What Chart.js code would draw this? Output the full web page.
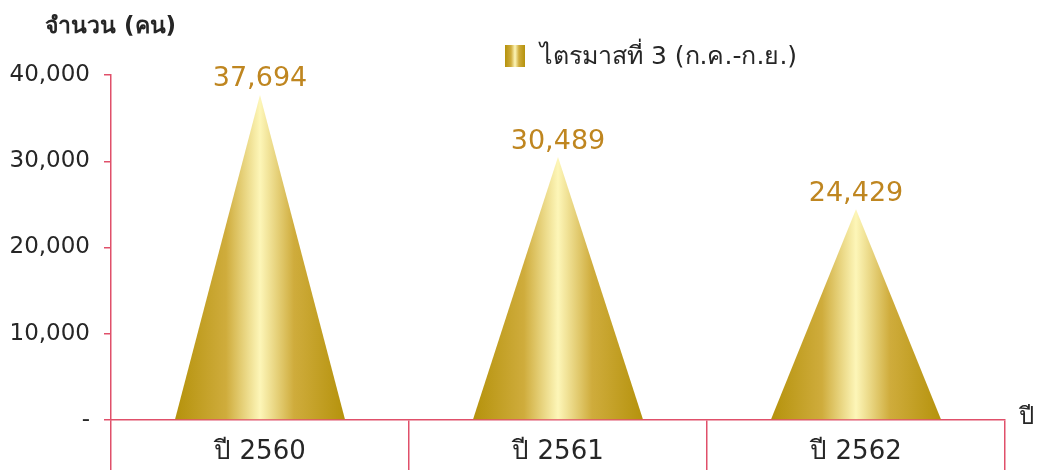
<!DOCTYPE html>
<html>
<head>
<meta charset="utf-8">
<script src="https://cdn.jsdelivr.net/npm/chart.js@4.4.1/dist/chart.umd.min.js"></script>
<style>
  html, body { margin: 0; padding: 0; background: #fff; }
  #wrap { width: 1037px; height: 470px; }
</style>
</head>
<body>
<div id="wrap"><canvas id="coneChart"></canvas></div>
<script>
// Visitors, Q3 (Jul-Sep)
const categories = ['ปี 2560', 'ปี 2561', 'ปี 2562'];
const visitors = [37694, 30489, 24429];
const yTicks = [0, 10000, 20000, 30000, 40000];
const seriesName = 'ไตรมาสที่ 3 (ก.ค.-ก.ย.)';
const yTitle = 'จำนวน (คน)';
const xTitle = 'ปี';

const FONT = '"DejaVu Sans", Tahoma, sans-serif';
const AXIS_PINK = '#e0506a';
const TEXT = '#262626';
const LABEL_GOLD = '#bf8620';

function goldGradient(ctx, x0, x1) {
  const g = ctx.createLinearGradient(x0, 0, x1, 0);
  g.addColorStop(0, '#b5920c');
  g.addColorStop(0.3, '#cfac3c');
  g.addColorStop(0.5, '#fdf6b8');
  g.addColorStop(0.7, '#cfac3c');
  g.addColorStop(1, '#b5920c');
  return g;
}

// draws each bar as a cone (triangle) plus its value label
const conePlugin = {
  id: 'cones',
  afterDatasetsDraw(chart) {
    const ctx = chart.ctx;
    const meta = chart.getDatasetMeta(0);
    meta.data.forEach((bar, i) => {
      const { x, y, base, width } = bar.getProps(['x', 'y', 'base', 'width'], true);
      const half = width / 2;
      ctx.save();
      ctx.beginPath();
      ctx.moveTo(x - half, base);
      ctx.lineTo(x, y);
      ctx.lineTo(x + half, base);
      ctx.closePath();
      ctx.fillStyle = goldGradient(ctx, x - half, x + half);
      ctx.fill();

      ctx.font = '27px ' + FONT;
      ctx.fillStyle = LABEL_GOLD;
      ctx.textAlign = 'center';
      ctx.textBaseline = 'bottom';
      ctx.fillText(visitors[i].toLocaleString('en-US'), x, y - 2);
      ctx.restore();
    });
  }
};

// titles and legend
const extrasPlugin = {
  id: 'extras',
  afterDraw(chart) {
    const ctx = chart.ctx;
    const area = chart.chartArea;
    ctx.save();
    ctx.fillStyle = TEXT;
    ctx.textBaseline = 'middle';
    ctx.textAlign = 'left';
    ctx.font = '600 23px ' + FONT;
    ctx.fillText(yTitle, 45, 27);

    ctx.font = '24px ' + FONT;
    ctx.fillText(xTitle, area.right + 14, area.bottom - 2);

    // legend
    ctx.fillStyle = goldGradient(ctx, 505, 525);
    ctx.fillRect(505, 45, 20, 22);
    ctx.fillStyle = TEXT;
    ctx.font = '25px ' + FONT;
    ctx.fillText(seriesName, 540, 57);
    ctx.restore();
  }
};

new Chart(document.getElementById('coneChart'), {
  type: 'bar',
  data: {
    labels: categories,
    datasets: [{
      label: seriesName,
      data: visitors,
      backgroundColor: 'rgba(0,0,0,0)',
      borderWidth: 0,
      categoryPercentage: 1,
      barPercentage: 0.57
    }]
  },
  options: {
    responsive: true,
    maintainAspectRatio: false,
    animation: false,
    layout: { padding: { top: 75, right: 32, bottom: 0, left: 0 } },
    plugins: {
      legend: { display: false },
      tooltip: { enabled: false }
    },
    scales: {
      x: {
        grid: {
          drawOnChartArea: false,
          drawTicks: true,
          tickLength: 50,
          color: AXIS_PINK,
          lineWidth: 1.5
        },
        border: { color: AXIS_PINK, width: 1.5 },
        ticks: {
          padding: -33,
          color: TEXT,
          font: { family: FONT, size: 26 }
        },
        afterFit(scale) { scale.height = 50; }
      },
      y: {
        min: 0,
        max: 40000,
        afterBuildTicks(scale) { scale.ticks = yTicks.map(v => ({ value: v })); },
        grid: {
          drawOnChartArea: false,
          tickLength: 7,
          color: AXIS_PINK,
          lineWidth: 1.5
        },
        border: { color: AXIS_PINK, width: 1.5 },
        ticks: {
          padding: 14,
          color: TEXT,
          font: { family: FONT, size: 23 },
          callback: v => v === 0 ? '-' : v.toLocaleString('en-US')
        },
        afterFit(scale) { scale.width = 111; }
      }
    }
  },
  plugins: [conePlugin, extrasPlugin]
});
</script>
</body>
</html>
